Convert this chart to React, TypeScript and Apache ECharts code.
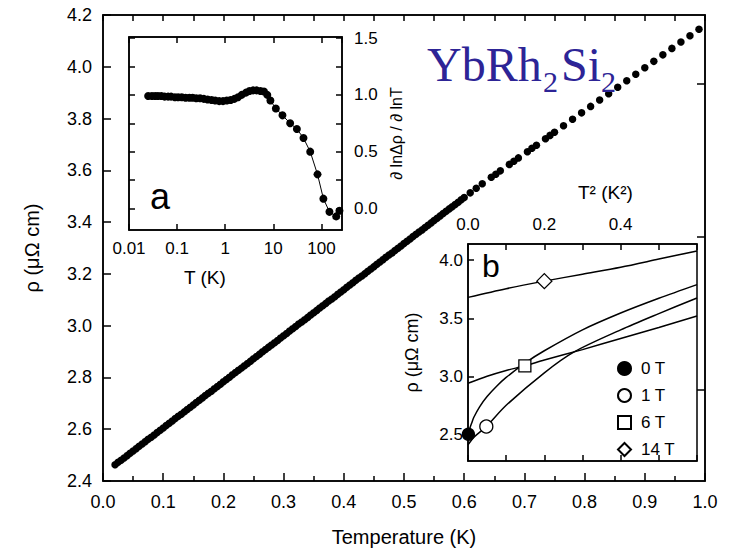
import React, { useEffect, useRef } from 'react';
import * as echarts from 'echarts';

const FONT = '"Liberation Sans", Arial, Helvetica, sans-serif';
const SERIF = '"Liberation Serif", "Times New Roman", serif';

// ---- main panel: rho(T) ----
const mainT = [
  0.02, 0.03, 0.04, 0.05, 0.06, 0.07, 0.08, 0.09, 0.10, 0.11, 0.12, 0.13, 0.14, 0.15, 0.16, 0.17, 0.18, 0.19, 0.20,
  0.21, 0.22, 0.23, 0.24, 0.25, 0.26, 0.27, 0.28, 0.29, 0.30, 0.31, 0.32, 0.33, 0.34, 0.35, 0.36, 0.37, 0.38, 0.39, 0.40,
  0.41, 0.42, 0.43, 0.44, 0.45, 0.46, 0.47, 0.48, 0.49, 0.50, 0.51, 0.52, 0.53, 0.54, 0.55, 0.56, 0.57, 0.58, 0.59, 0.60,
  0.61, 0.62, 0.63, 0.645, 0.66, 0.675, 0.69, 0.705, 0.72, 0.735, 0.75, 0.765, 0.78, 0.795, 0.81, 0.825, 0.84, 0.855,
  0.87, 0.885, 0.90, 0.915, 0.93, 0.945, 0.96, 0.975, 0.99,
];
const mainRho = [
  2.463, 2.480, 2.498, 2.516, 2.534, 2.552, 2.569, 2.587, 2.605, 2.623, 2.641, 2.658, 2.676, 2.694, 2.712, 2.730, 2.747, 2.765, 2.783,
  2.801, 2.819, 2.836, 2.854, 2.872, 2.890, 2.908, 2.925, 2.943, 2.961, 2.979, 2.997, 3.014, 3.032, 3.050, 3.068, 3.086, 3.103, 3.121, 3.139,
  3.157, 3.175, 3.192, 3.210, 3.228, 3.246, 3.264, 3.281, 3.299, 3.317, 3.335, 3.353, 3.370, 3.388, 3.406, 3.424, 3.442, 3.459, 3.477, 3.495,
  3.513, 3.531, 3.548, 3.573, 3.598, 3.623, 3.648, 3.672, 3.697, 3.722, 3.747, 3.772, 3.797, 3.822, 3.847, 3.872, 3.896, 3.921,
  3.946, 3.971, 3.996, 4.021, 4.046, 4.071, 4.096, 4.120, 4.145,
];
// second (interleaved) sweep: dense points up to ~0.75 K
const mainT2 = [
  0.025, 0.035, 0.045, 0.055, 0.065, 0.075, 0.085, 0.095, 0.105, 0.115, 0.125, 0.135, 0.145, 0.155, 0.165, 0.175, 0.185, 0.195,
  0.205, 0.215, 0.225, 0.235, 0.245, 0.255, 0.265, 0.275, 0.285, 0.295, 0.305, 0.315, 0.325, 0.335, 0.345, 0.355, 0.365, 0.375,
  0.385, 0.395, 0.405, 0.415, 0.425, 0.435, 0.445, 0.455, 0.465, 0.475, 0.485, 0.495, 0.505, 0.515, 0.525, 0.535, 0.545, 0.555,
  0.565, 0.575, 0.585, 0.595, 0.6525, 0.6825, 0.7125, 0.7425,
];
const mainRho2 = [
  2.472, 2.489, 2.507, 2.525, 2.543, 2.561, 2.578, 2.596, 2.614, 2.632, 2.650, 2.667, 2.685, 2.703, 2.721, 2.739, 2.756, 2.774,
  2.792, 2.810, 2.828, 2.845, 2.863, 2.881, 2.899, 2.917, 2.934, 2.952, 2.970, 2.988, 3.006, 3.023, 3.041, 3.059, 3.077, 3.095,
  3.112, 3.130, 3.148, 3.166, 3.184, 3.201, 3.219, 3.237, 3.255, 3.273, 3.290, 3.308, 3.326, 3.344, 3.362, 3.379, 3.397, 3.415,
  3.433, 3.451, 3.468, 3.486, 3.585, 3.635, 3.685, 3.735,
];
const mainRightTicks = [3.934, 3.343, 2.752];

// ---- inset a: dln(Δρ)/dlnT vs T (log) ----
const aT = [
  0.025, 0.03, 0.035, 0.04, 0.047, 0.055, 0.065, 0.075, 0.09, 0.105, 0.125, 0.15, 0.18, 0.21, 0.25,
  0.3, 0.36, 0.43, 0.52, 0.62, 0.75, 0.9, 1.08, 1.3, 1.55, 1.85, 2.2, 2.7, 3.2, 3.8,
  4.5, 5.4, 6.4, 7.5, 8.7, 11.3, 15.5, 22.4, 30.9, 42.4, 58.5, 83, 110, 147, 203, 237,
];
const aVal = [
  0.99, 0.99, 0.99, 0.99, 0.99, 0.985, 0.985, 0.985, 0.98, 0.98, 0.98, 0.975, 0.975, 0.975, 0.97,
  0.97, 0.965, 0.96, 0.955, 0.95, 0.945, 0.945, 0.95, 0.955, 0.965, 0.98, 1.0, 1.02, 1.035, 1.04,
  1.04, 1.035, 1.03, 1.0, 0.95, 0.88, 0.82, 0.75, 0.70, 0.62, 0.50, 0.30, 0.086, -0.03, -0.07, -0.02,
];
const aYTicks = [0, 0.25, 0.5, 0.75, 1.0, 1.25, 1.5];
const aYLabels = [0, 0.5, 1.0, 1.5];

// ---- inset b: rho vs T^2 ----
const b0T2 = [0.0004, 0.002, 0.005, 0.01, 0.015, 0.03, 0.05, 0.075, 0.1, 0.15, 0.2, 0.3, 0.4, 0.5, 0.6];
const b0Rho = [2.463, 2.51, 2.553, 2.60, 2.645, 2.735, 2.825, 2.914, 2.99, 3.116, 3.22, 3.40, 3.545, 3.672, 3.79];
const b1T2 = [0.0, 0.017, 0.048, 0.1, 0.2, 0.278, 0.4, 0.5, 0.6];
const b1Rho = [2.41, 2.48, 2.567, 2.75, 3.03, 3.21, 3.40, 3.54, 3.675];
const b6T2 = [0.0, 0.05, 0.1, 0.149, 0.2, 0.3, 0.4, 0.5, 0.6];
const b6Rho = [2.94, 3.0, 3.05, 3.09, 3.14, 3.23, 3.326, 3.42, 3.52];
const b14T2 = [0.0, 0.1, 0.2, 0.3, 0.4, 0.5, 0.6];
const b14Rho = [3.68, 3.755, 3.82, 3.88, 3.94, 4.01, 4.08];
const fieldNames = ['0 T', '1 T', '6 T', '14 T'];
const markerT2 = [0.001, 0.048, 0.149, 0.2];
const markerRho = [2.50, 2.567, 3.09, 3.82];
const bYLabels = [2.5, 3.0, 3.5, 4.0];
const bXLabels = [0, 0.2, 0.4];

const zip = (xs: number[], ys: number[]) => xs.map((x, i) => [x, ys[i]]);

const axis = (o: any) => {
  const { axisTick = {}, axisLabel = {}, axisLine = {}, ...rest } = o;
  return {
    splitLine: { show: false },
    axisLine: { show: true, onZero: false, lineStyle: { color: '#000', width: 1.5 }, ...axisLine },
    axisTick: { show: true, inside: true, length: 7, lineStyle: { color: '#000', width: 1.5 }, ...axisTick },
    axisLabel: { color: '#000', fontFamily: FONT, ...axisLabel },
    nameTextStyle: { color: '#000', fontFamily: FONT },
    ...rest,
  };
};

const f1 = (v: number) => v.toFixed(1);
const logFmt = (v: number) => (v >= 1 ? String(Math.round(v)) : String(Number(v.toPrecision(1))));

const syms = ['circle', 'circle', 'rect', 'diamond'];
const fills = ['#000', '#fff', '#fff', '#fff'];
const symSizes = [12, 13, 12, 15];

const option: any = {
  animation: false,
  backgroundColor: '#fff',
  textStyle: { fontFamily: FONT, color: '#000' },
  grid: [
    { left: 103, top: 15, width: 602, height: 466, show: true, borderColor: '#000', borderWidth: 1.5, backgroundColor: 'transparent' },
    { left: 129, top: 37, width: 213, height: 193, show: true, borderColor: '#000', borderWidth: 1.5, backgroundColor: '#fff' },
    { left: 468, top: 244, width: 229, height: 217, show: true, borderColor: '#000', borderWidth: 1.5, backgroundColor: '#fff' },
  ],
  xAxis: [
    axis({
      gridIndex: 0, type: 'value', position: 'bottom', min: 0, max: 1, interval: 0.1,
      axisTick: { length: 8 },
      minorTick: { show: true, splitNumber: 2, length: 5, lineStyle: { color: '#000', width: 1.5 } },
      axisLabel: { fontSize: 18, margin: 12, formatter: f1 },
      name: 'Temperature (K)', nameLocation: 'middle', nameGap: 46,
      nameTextStyle: { color: '#000', fontFamily: FONT, fontSize: 20 },
    }),
    axis({
      gridIndex: 0, type: 'value', position: 'top', min: 0, max: 1, interval: 0.05,
      axisTick: { length: 6 }, axisLabel: { show: false },
    }),
    axis({
      gridIndex: 1, type: 'log', logBase: 10, position: 'bottom', min: 0.01, max: 268,
      axisTick: { length: 6 },
      axisLabel: { fontSize: 17, margin: 10, formatter: logFmt, showMaxLabel: false },
    }),
    axis({
      gridIndex: 1, type: 'log', logBase: 10, position: 'top', min: 0.01, max: 268,
      axisTick: { length: 6 }, axisLabel: { show: false },
    }),
    axis({
      gridIndex: 2, type: 'value', position: 'top', min: 0, max: 0.6, interval: 0.1,
      axisTick: { length: 6 },
      axisLabel: { fontSize: 17, margin: 11, formatter: f1, customValues: bXLabels },
    }),
    axis({
      gridIndex: 2, type: 'value', position: 'bottom', min: 0, max: 0.6, interval: 0.1,
      axisTick: { length: 6 }, axisLabel: { show: false },
    }),
  ],
  yAxis: [
    axis({
      gridIndex: 0, type: 'value', position: 'left', min: 2.4, max: 4.2, interval: 0.2,
      axisTick: { length: 8 },
      axisLabel: { fontSize: 18, margin: 11, formatter: f1 },
      name: 'ρ (μΩ cm)', nameLocation: 'middle', nameGap: 61,
      nameTextStyle: { color: '#000', fontFamily: FONT, fontSize: 20 },
    }),
    axis({
      gridIndex: 0, type: 'value', position: 'right', min: 2.4, max: 4.2,
      axisTick: { length: 8, customValues: mainRightTicks }, axisLabel: { show: false },
    }),
    axis({
      gridIndex: 1, type: 'value', position: 'right', min: -0.19, max: 1.51,
      axisTick: { length: 6, customValues: aYTicks },
      axisLabel: { fontSize: 17, margin: 12, formatter: f1, customValues: aYLabels },
      name: '∂ lnΔρ / ∂ lnT', nameLocation: 'middle', nameGap: 46,
      nameTextStyle: { color: '#000', fontFamily: FONT, fontSize: 16 },
    }),
    axis({
      gridIndex: 1, type: 'value', position: 'left', min: -0.19, max: 1.51,
      axisTick: { length: 6, customValues: aYTicks }, axisLabel: { show: false },
    }),
    axis({
      gridIndex: 2, type: 'value', position: 'left', min: 2.27, max: 4.14,
      axisTick: { length: 6, customValues: bYLabels },
      axisLabel: { fontSize: 17, margin: 5, formatter: f1, customValues: bYLabels },
      name: 'ρ (μΩ cm)', nameLocation: 'middle', nameGap: 47,
      nameTextStyle: { color: '#000', fontFamily: FONT, fontSize: 18 },
    }),
  ],
  legend: {
    data: fieldNames,
    orient: 'vertical',
    left: 612, top: 355,
    itemWidth: 13, itemHeight: 13, itemGap: 10,
    textStyle: { color: '#000', fontFamily: FONT, fontSize: 17, padding: [0, 0, 0, 5] },
    selectedMode: false,
  },
  series: [
    {
      type: 'scatter', xAxisIndex: 0, yAxisIndex: 0, data: zip(mainT, mainRho).concat(zip(mainT2, mainRho2)),
      symbol: 'circle', symbolSize: 7.5, itemStyle: { color: '#000', opacity: 1 }, z: 3,
    },
    {
      type: 'line', xAxisIndex: 2, yAxisIndex: 2, data: zip(aT, aVal),
      symbol: 'circle', symbolSize: 8, showSymbol: true,
      lineStyle: { color: '#000', width: 1 }, itemStyle: { color: '#000', opacity: 1 }, z: 5,
    },
    ...[zip(b0T2, b0Rho), zip(b1T2, b1Rho), zip(b6T2, b6Rho), zip(b14T2, b14Rho)].map((d) => ({
      type: 'line', xAxisIndex: 4, yAxisIndex: 4, data: d, showSymbol: false, smooth: 0.3,
      lineStyle: { color: '#000', width: 1.5 }, z: 5,
    })),
    ...fieldNames.map((name, i) => ({
      type: 'scatter', name, xAxisIndex: 4, yAxisIndex: 4,
      data: [[markerT2[i], markerRho[i]]],
      symbol: syms[i], symbolSize: symSizes[i], clip: false,
      itemStyle: { color: fills[i], borderColor: '#000', borderWidth: 1.3, opacity: 1 }, z: 6,
    })),
  ],
  graphic: [
    { type: 'text', x: 427, y: 64, z: 10, style: { text: 'YbRh', font: `48px ${SERIF}`, fill: '#2d2496', textVerticalAlign: 'middle' } },
    { type: 'text', x: 543, y: 81, z: 10, style: { text: '2', font: `30px ${SERIF}`, fill: '#2d2496', textVerticalAlign: 'middle' } },
    { type: 'text', x: 561, y: 64, z: 10, style: { text: 'Si', font: `48px ${SERIF}`, fill: '#2d2496', textVerticalAlign: 'middle' } },
    { type: 'text', x: 601, y: 81, z: 10, style: { text: '2', font: `30px ${SERIF}`, fill: '#2d2496', textVerticalAlign: 'middle' } },
    { type: 'text', x: 160, y: 196, z: 10, style: { text: 'a', font: `36px ${FONT}`, fill: '#000', textAlign: 'center', textVerticalAlign: 'middle' } },
    { type: 'text', x: 491, y: 266, z: 10, style: { text: 'b', font: `32px ${FONT}`, fill: '#000', textAlign: 'center', textVerticalAlign: 'middle' } },
    { type: 'text', x: 184, y: 277, z: 10, style: { text: 'T (K)', font: `19px ${FONT}`, fill: '#000', textVerticalAlign: 'middle' } },
    { type: 'text', x: 578, y: 192, z: 10, style: { text: 'T² (K²)', font: `19px ${FONT}`, fill: '#000', textVerticalAlign: 'middle' } },
  ],
};

export default function App() {
  const ref = useRef<HTMLDivElement>(null);
  useEffect(() => {
    if (!ref.current) return;
    const chart = echarts.init(ref.current, null, { renderer: 'svg' });
    chart.setOption(option);
    return () => chart.dispose();
  }, []);
  return (
    <div
      ref={ref}
      style={{ position: 'fixed', left: 0, top: 0, width: 729, height: 560, background: '#fff' }}
    />
  );
}
